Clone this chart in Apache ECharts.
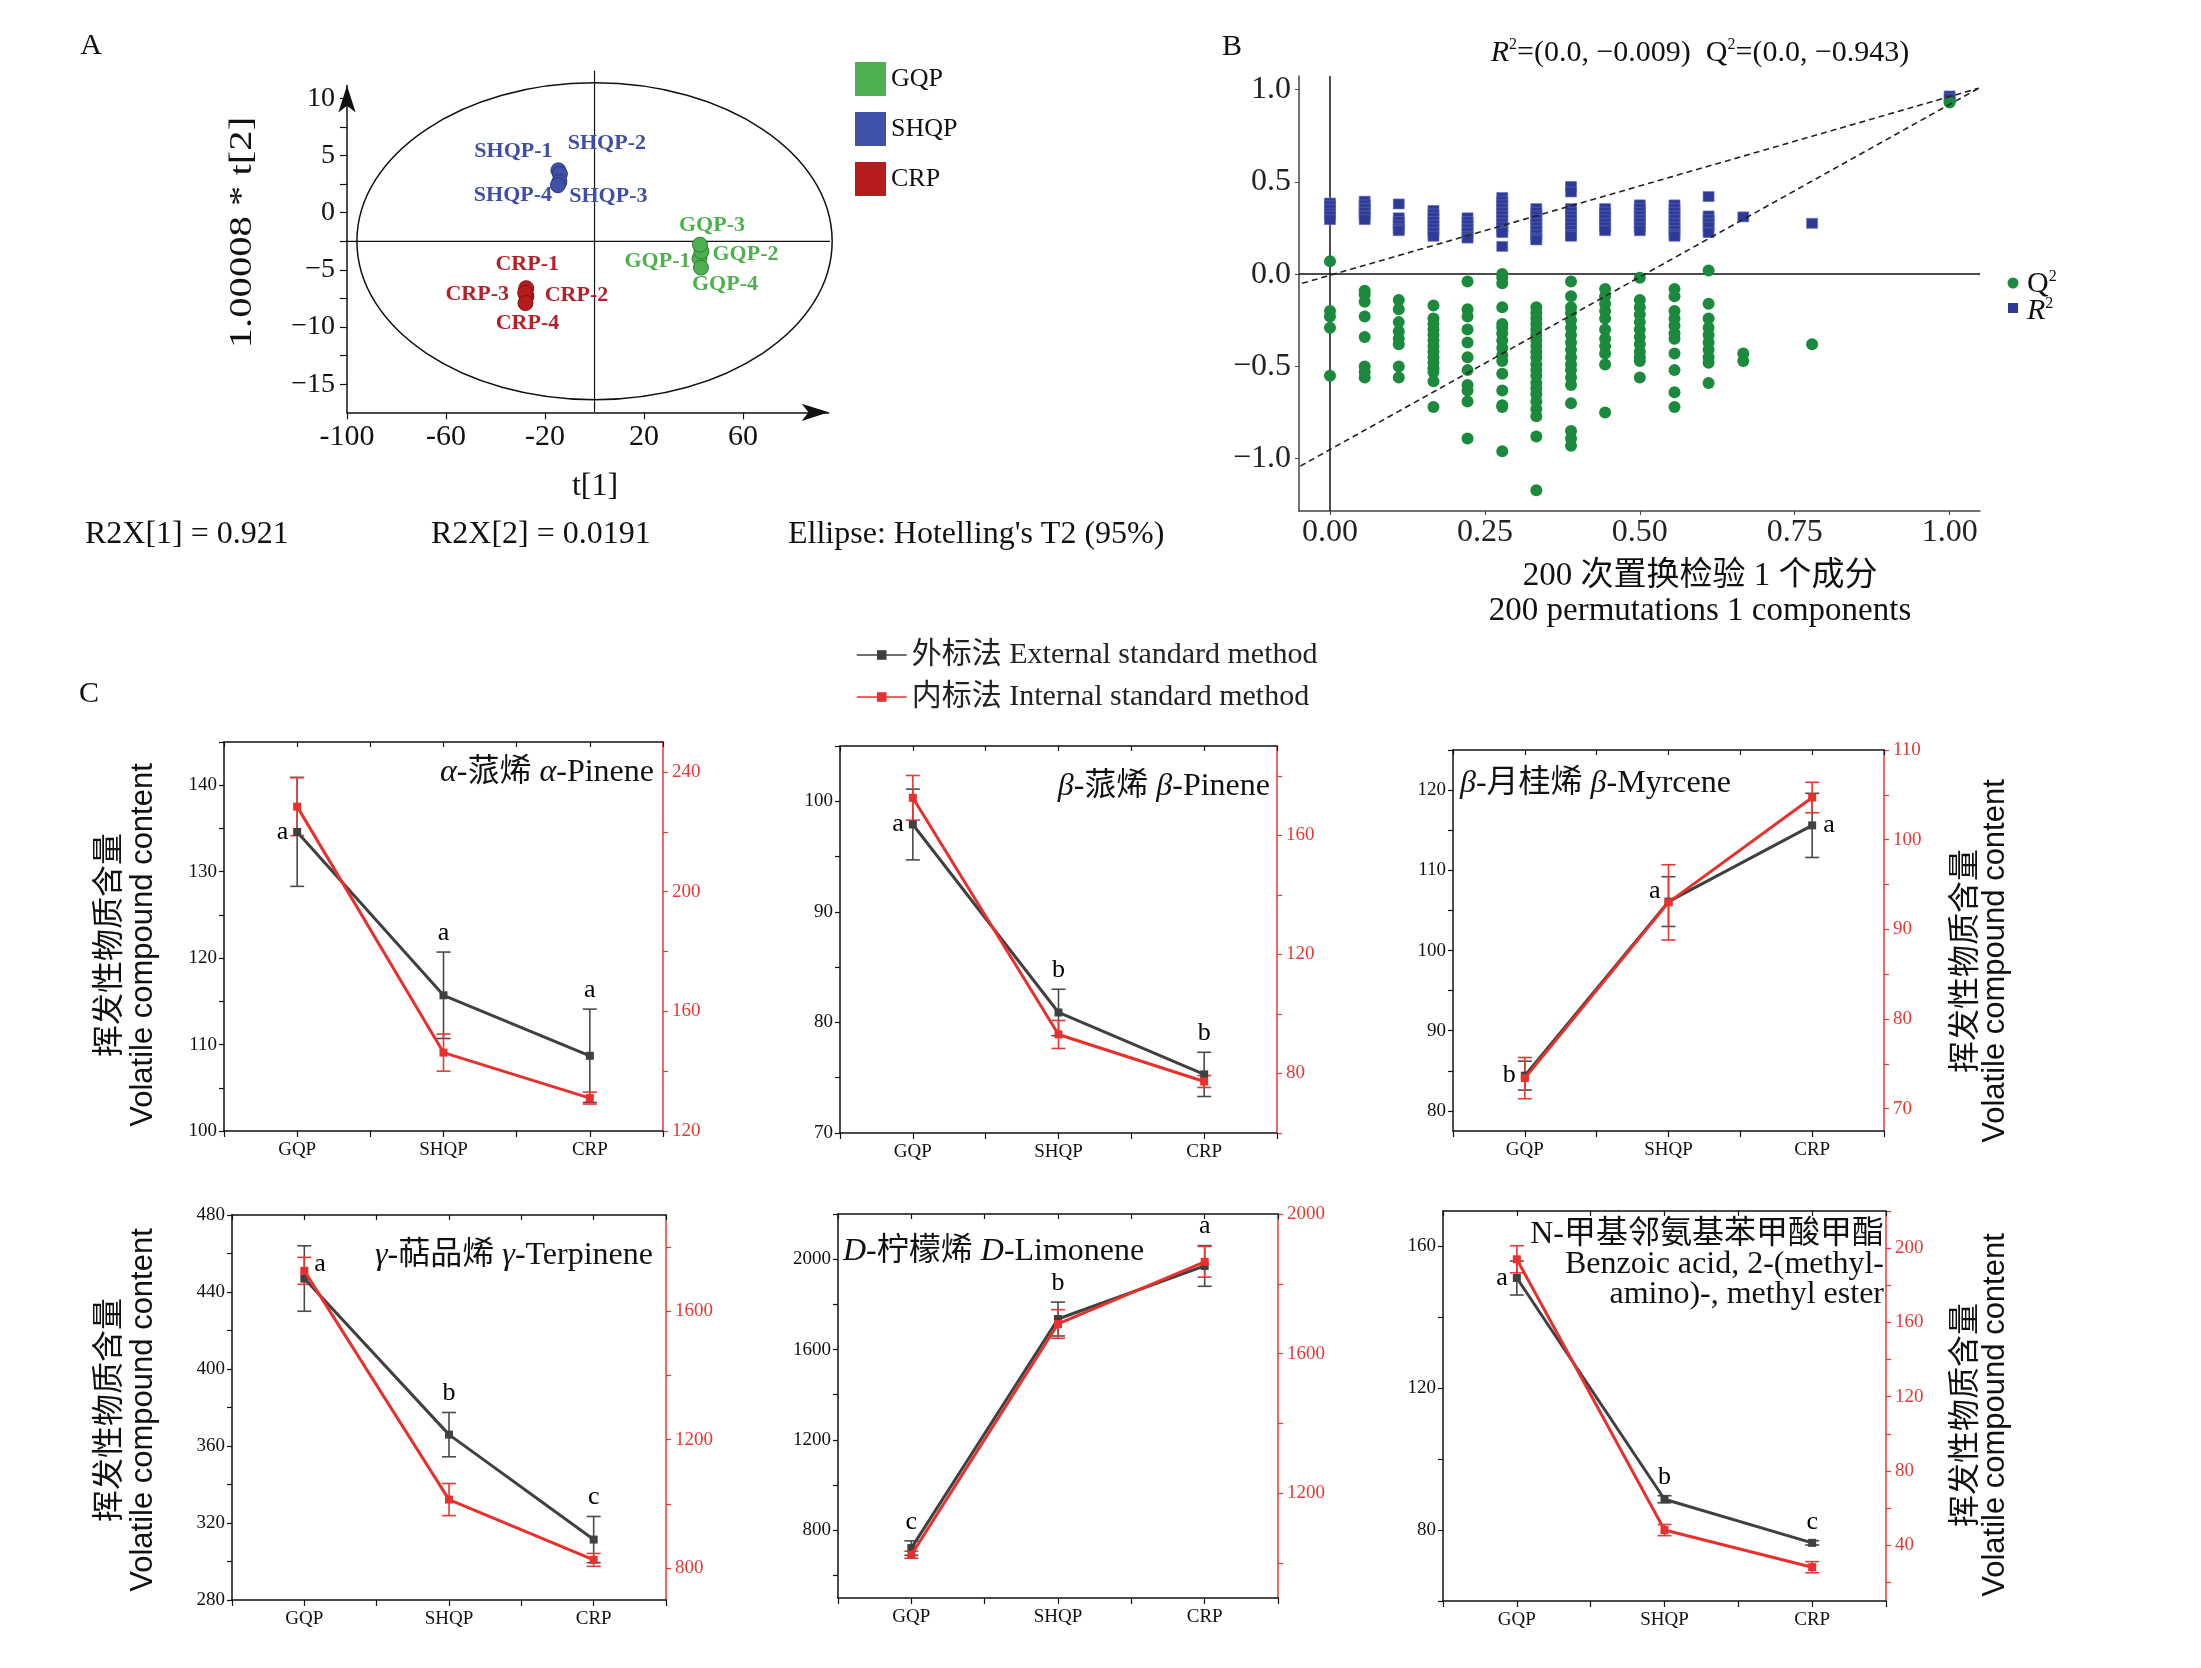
<!DOCTYPE html>
<html>
<head>
<meta charset="utf-8">
<title>PCA, permutation test and volatile compounds</title>
<script src="https://cdn.jsdelivr.net/npm/echarts@6.0.0/dist/echarts.min.js"></script>
<style>
  html, body { margin: 0; padding: 0; background: #fff; }
  #fig { width: 2201px; height: 1668px; }
</style>
</head>
<body>
<div id="fig"></div>
<script>
var SERIF = '"Liberation Serif", "Noto Sans CJK SC", serif';
var SANS = '"Liberation Sans", "Noto Sans CJK SC", sans-serif';

// ---------- A: PCA score plot ----------
var groupNames = ['GQP', 'SHQP', 'CRP'];
var gqpScores  = [[42.4, -4.0], [43.2, -3.4], [42.6, -2.8], [43.0, -4.8]];
var shqpScores = [[-14.6, 3.7], [-14.0, 3.4], [-14.2, 2.7], [-14.8, 2.4]];
var crpScores  = [[-27.6, -6.6], [-27.5, -7.3], [-28.0, -7.0], [-27.9, -7.9]];
var gqpSamples  = ['GQP-1', 'GQP-2', 'GQP-3', 'GQP-4'];
var shqpSamples = ['SHQP-1', 'SHQP-2', 'SHQP-3', 'SHQP-4'];
var crpSamples  = ['CRP-1', 'CRP-2', 'CRP-3', 'CRP-4'];
var hotelling = [0, -2.5, 96, 13.85];   // centre x, centre y, half width, half height
var scoreXTicks = [-100, -60, -20, 20, 60];
var scoreYTicks = [-15, -10, -5, 0, 5, 10];
var r2xTexts = ['R2X[1] = 0.921', 'R2X[2] = 0.0191', "Ellipse: Hotelling's T2 (95%)"];

// ---------- B: 200 permutations ----------
var permX = [0, 0.056, 0.111, 0.167, 0.222, 0.278, 0.333, 0.389, 0.444, 0.5, 0.556, 0.611, 0.667, 0.778, 1.0];
var r2Perm = [
  [0.385, 0.37, 0.35, 0.33, 0.315, 0.295],
  [0.395, 0.375, 0.355, 0.335, 0.315, 0.295],
  [0.38, 0.305, 0.285, 0.265, 0.245, 0.235],
  [0.345, 0.325, 0.305, 0.285, 0.265, 0.245, 0.225, 0.205],
  [0.305, 0.285, 0.265, 0.245, 0.225, 0.205, 0.195],
  [0.415, 0.395, 0.375, 0.355, 0.335, 0.315, 0.295, 0.275, 0.255, 0.235, 0.225, 0.15],
  [0.355, 0.335, 0.315, 0.295, 0.275, 0.255, 0.235, 0.215, 0.195, 0.185],
  [0.475, 0.445, 0.355, 0.335, 0.315, 0.295, 0.275, 0.255, 0.235, 0.215, 0.205],
  [0.355, 0.335, 0.315, 0.295, 0.275, 0.255, 0.235],
  [0.375, 0.355, 0.335, 0.315, 0.295, 0.275, 0.255, 0.235],
  [0.375, 0.355, 0.335, 0.315, 0.295, 0.275, 0.255, 0.235, 0.215, 0.205],
  [0.42, 0.315, 0.295, 0.275, 0.255, 0.225],
  [0.31],
  [0.275],
  [0.965, 0.95]
];
var q2Perm = [
  [0.07, -0.2, -0.23, -0.29, -0.55],
  [-0.09, -0.11, -0.15, -0.23, -0.34, -0.5, -0.53, -0.56],
  [-0.14, -0.19, -0.26, -0.31, -0.35, -0.38, -0.5, -0.56],
  [-0.17, -0.24, -0.27, -0.3, -0.33, -0.36, -0.39, -0.42, -0.45, -0.48, -0.51, -0.53, -0.58, -0.72],
  [-0.04, -0.19, -0.23, -0.3, -0.37, -0.45, -0.52, -0.6, -0.63, -0.69, -0.89],
  [0.0, -0.02, -0.05, -0.18, -0.27, -0.29, -0.32, -0.36, -0.4, -0.44, -0.47, -0.54, -0.63, -0.71, -0.72, -0.96],
  [-0.18, -0.21, -0.24, -0.27, -0.3, -0.33, -0.36, -0.39, -0.42, -0.45, -0.49, -0.52, -0.55, -0.59, -0.62, -0.65, -0.69, -0.73, -0.77, -0.88, -1.17],
  [-0.04, -0.12, -0.18, -0.21, -0.25, -0.29, -0.33, -0.37, -0.41, -0.45, -0.49, -0.52, -0.56, -0.6, -0.7, -0.85, -0.89, -0.93],
  [-0.08, -0.12, -0.16, -0.2, -0.24, -0.3, -0.35, -0.39, -0.43, -0.49, -0.75],
  [-0.02, -0.14, -0.18, -0.22, -0.26, -0.3, -0.34, -0.38, -0.42, -0.45, -0.47, -0.56],
  [-0.08, -0.12, -0.2, -0.24, -0.28, -0.32, -0.35, -0.43, -0.52, -0.64, -0.72],
  [0.02, -0.16, -0.24, -0.29, -0.33, -0.37, -0.41, -0.45, -0.48, -0.59],
  [-0.43, -0.47],
  [-0.38],
  [0.93]
];
var r2Trend = [[-0.045, -0.05], [1.047, 1.007]];
var q2Trend = [[-0.048, -1.04], [1.047, 1.007]];
var permXTicks = [0, 0.25, 0.5, 0.75, 1];
var permYTicks = [-1, -0.5, 0, 0.5, 1];

// ---------- C: external vs internal standard ----------
var groups = ['GQP', 'SHQP', 'CRP'];
var extName = '外标法 External standard method';
var intName = '内标法 Internal standard method';

var aPinExt = [134.6, 115.7, 108.7], aPinExtSd = [6.3, 5.0, 5.4];
var aPinInt = [228.4, 146.2, 131.0], aPinIntSd = [9.7, 6.2, 2.0];
var aPinSig = ['a', 'a', 'a'];
var aPinLeftTicks = [100, 110, 120, 130, 140], aPinRightTicks = [120, 160, 200, 240];

var bPinExt = [97.9, 80.9, 75.3], bPinExtSd = [3.2, 2.1, 2.0];
var bPinInt = [172.6, 93.1, 77.3], bPinIntSd = [7.5, 4.7, 2.0];
var bPinSig = ['a', 'b', 'b'];
var bPinLeftTicks = [70, 80, 90, 100], bPinRightTicks = [80, 120, 160];

var myrExt = [84.4, 106.1, 115.6], myrExtSd = [1.8, 3.1, 4.0];
var myrInt = [73.4, 93.0, 104.7], myrIntSd = [2.3, 4.2, 1.7];
var myrSig = ['b', 'a', 'a'];
var myrLeftTicks = [80, 90, 100, 110, 120], myrRightTicks = [70, 80, 90, 100, 110];

var terExt = [447.0, 365.9, 311.4], terExtSd = [17, 11.5, 12];
var terInt = [1726, 1013, 825], terIntSd = [42, 50, 20];
var terSig = ['a', 'b', 'c'];
var terLeftTicks = [280, 320, 360, 400, 440, 480], terRightTicks = [800, 1200, 1600];

var limExt = [721, 1735, 1970], limExtSd = [32, 75, 90];
var limInt = [1024, 1685, 1863], limIntSd = [10, 41, 44];
var limSig = ['c', 'b', 'a'];
var limLeftTicks = [800, 1200, 1600, 2000], limRightTicks = [1200, 1600, 2000];

var benExt = [151.1, 88.7, 76.4], benExtSd = [4.8, 1.0, 0.6];
var benInt = [194, 48.2, 28.2], benIntSd = [7.3, 3.0, 3.0];
var benSig = ['a', 'b', 'c'];
var benLeftTicks = [80, 120, 160], benRightTicks = [40, 80, 120, 160, 200];

// layout of the six small charts (pixels) and their axis ranges
var panelsC = [
  {ext: aPinExt, extSd: aPinExtSd, inner: aPinInt, innerSd: aPinIntSd, sig: aPinSig,
   lTicks: aPinLeftTicks, rTicks: aPinRightTicks, box: [224, 742, 439, 389],
   yl: [100, 145, 5], yr: [120, 250, 20], sigPos: ['left', 'top', 'top'],
   title: '{i|α}-蒎烯 {i|α}-Pinene', tAlign: 'right', tx: 654, ty: 773, name: 'left', nameY: 945},
  {ext: bPinExt, extSd: bPinExtSd, inner: bPinInt, innerSd: bPinIntSd, sig: bPinSig,
   lTicks: bPinLeftTicks, rTicks: bPinRightTicks, box: [840, 746, 437, 387],
   yl: [70, 105, 5], yr: [60, 190, 20], sigPos: ['left', 'top', 'top'],
   title: '{i|β}-蒎烯 {i|β}-Pinene', tAlign: 'right', tx: 1270, ty: 787, name: null},
  {ext: myrExt, extSd: myrExtSd, inner: myrInt, innerSd: myrIntSd, sig: myrSig,
   lTicks: myrLeftTicks, rTicks: myrRightTicks, box: [1453, 750, 431, 381],
   yl: [77.5, 125, 5], yr: [67.5, 110, 5], sigPos: ['left', 'lefttop', 'right'],
   title: '{i|β}-月桂烯 {i|β}-Myrcene', tAlign: 'left', tx: 1460, ty: 784, name: 'right', nameY: 961},
  {ext: terExt, extSd: terExtSd, inner: terInt, innerSd: terIntSd, sig: terSig,
   lTicks: terLeftTicks, rTicks: terRightTicks, box: [232, 1215, 434, 385],
   yl: [280, 480, 20], yr: [700, 1900, 200], sigPos: ['righttop', 'top', 'top'],
   title: '{i|γ}-萜品烯 {i|γ}-Terpinene', tAlign: 'right', tx: 653, ty: 1256, name: 'left', nameY: 1410},
  {ext: limExt, extSd: limExtSd, inner: limInt, innerSd: limIntSd, sig: limSig,
   lTicks: limLeftTicks, rTicks: limRightTicks, box: [838, 1214, 440, 384],
   yl: [500, 2200, 200], yr: [900, 2000, 200], sigPos: ['top', 'top', 'top'],
   title: '{i|D}-柠檬烯 {i|D}-Limonene', tAlign: 'left', tx: 843, ty: 1252, name: null},
  {ext: benExt, extSd: benExtSd, inner: benInt, innerSd: benIntSd, sig: benSig,
   lTicks: benLeftTicks, rTicks: benRightTicks, box: [1443, 1211, 443, 390],
   yl: [60, 170, 20], yr: [10, 220, 20], sigPos: ['left', 'top', 'top'],
   title: 'N-甲基邻氨基苯甲酸甲酯\nBenzoic acid, 2-(methyl-\namino)-, methyl ester',
   tAlign: 'right', tx: 1884, ty: 1265, name: 'right', nameY: 1415}
];

function tickRange(min, max, step) {
  var out = [];
  var v = Math.ceil(min / step - 1e-9) * step;
  for (; v <= max + 1e-9; v += step) out.push(Math.round(v * 1000) / 1000);
  return out;
}
function minus(v) { return String(v).replace('-', '\u2212'); }
function plain(v) { return String(v); }

function textEl(str, x, y, size, opts) {
  opts = opts || {};
  return {
    type: 'text', x: x, y: y, rotation: opts.rotation || 0,
    scaleX: opts.scaleX || 1, silent: true, z: 10,
    style: {
      text: str, fontSize: size, fontFamily: opts.family || SERIF,
      fontStyle: opts.italic ? 'italic' : 'normal', fill: opts.color || '#111',
      align: opts.align || 'center', verticalAlign: opts.valign || 'middle',
      textAlign: opts.align || 'center', textVerticalAlign: opts.valign || 'middle',
      lineHeight: opts.lineHeight, rich: opts.rich
    }
  };
}

function renderErr(params, api) {
  var x = api.value(0), m = api.value(1), s = api.value(2);
  var hi = api.coord([x, m + s]), lo = api.coord([x, m - s]);
  var w = 7;
  var st = {stroke: api.visual('color'), lineWidth: 1.6};
  return {type: 'group', children: [
    {type: 'line', shape: {x1: hi[0], y1: hi[1], x2: lo[0], y2: lo[1]}, style: st},
    {type: 'line', shape: {x1: hi[0] - w, y1: hi[1], x2: hi[0] + w, y2: hi[1]}, style: st},
    {type: 'line', shape: {x1: lo[0] - w, y1: lo[1], x2: lo[0] + w, y2: lo[1]}, style: st}
  ]};
}

var grids = [], xAxes = [], yAxes = [], series = [], graphics = [];

// ===== Panel A =====
var aXMin = -100, aXMax = 94.6, aYMin = -17.45, aYMax = 11.12;
grids.push({left: 347, top: 85.5, width: 481.7, height: 326.8});
xAxes.push({
  gridIndex: 0, type: 'value', min: aXMin, max: aXMax,
  axisLine: {show: true, onZero: false, symbol: ['none', 'arrow'], symbolSize: [13, 27],
    lineStyle: {color: '#111', width: 1.5}},
  axisTick: {show: true, customValues: scoreXTicks, length: 7, lineStyle: {color: '#111', width: 1.2}},
  axisLabel: {customValues: scoreXTicks, formatter: plain, fontSize: 30, fontFamily: SERIF, color: '#111', margin: 10},
  splitLine: {show: false}
});
yAxes.push({
  gridIndex: 0, type: 'value', min: aYMin, max: aYMax,
  axisLine: {show: true, onZero: false, symbol: ['none', 'arrow'], symbolSize: [13, 27],
    lineStyle: {color: '#111', width: 1.5}},
  axisTick: {show: true, customValues: tickRange(-15, 10, 2.5), length: 7, lineStyle: {color: '#111', width: 1.2}},
  axisLabel: {customValues: scoreYTicks, formatter: minus, fontSize: 28, fontFamily: SERIF, color: '#111', margin: 12},
  splitLine: {show: false}
});

var scoreSets = [gqpScores, shqpScores, crpScores];
var sampleSets = [gqpSamples, shqpSamples, crpSamples];
var fillColors = ['#4caf50', '#4051a8', '#b71c1c'];
var edgeColors = ['#2e7d32', '#27357f', '#7f0f0f'];
var labelColors = ['#4fb04f', '#3f4fa6', '#b3212b'];
var labelOffsets = [
  [[-42, 3], [44, 3], [12, -19], [24, 17]],
  [[-45, -19], [47, -30], [49, 14], [-45, 10]],
  [[1, -24], [50, -1], [-48, 2], [2, 20]]
];
groupNames.forEach(function (g, gi) {
  series.push({
    name: g, type: 'scatter', xAxisIndex: 0, yAxisIndex: 0,
    symbol: 'circle', symbolSize: 15, z: 5,
    itemStyle: {color: fillColors[gi], borderColor: edgeColors[gi], borderWidth: 1, opacity: 1},
    data: scoreSets[gi].map(function (p, k) {
      return {value: p, label: {show: true, position: 'inside', offset: labelOffsets[gi][k],
        formatter: sampleSets[gi][k], color: labelColors[gi], fontSize: 22,
        fontWeight: 'bold', fontFamily: SERIF}};
    })
  });
});
series.push({
  type: 'custom', name: 'ellipse', xAxisIndex: 0, yAxisIndex: 0, silent: true, z: 2,
  data: [hotelling], encode: {x: 0, y: 1},
  renderItem: function (params, api) {
    var c = api.coord([api.value(0), api.value(1)]);
    var s = api.size([api.value(2), api.value(3)]);
    return {type: 'ellipse', shape: {cx: c[0], cy: c[1], rx: s[0], ry: s[1]},
      style: {fill: 'none', stroke: '#111', lineWidth: 1.5}};
  }
});
series.push({type: 'line', name: 'crossV', xAxisIndex: 0, yAxisIndex: 0, clip: false, symbol: 'none', silent: true,
  data: [[hotelling[0], aYMin], [hotelling[0], 12.4]], lineStyle: {color: '#111', width: 1.2}, z: 2});
series.push({type: 'line', name: 'crossH', xAxisIndex: 0, yAxisIndex: 0, clip: false, symbol: 'none', silent: true,
  data: [[-102.5, hotelling[1]], [100.6, hotelling[1]]], lineStyle: {color: '#111', width: 1.2}, z: 2});

// ===== Panel B =====
var bXMin = -0.05, bXMax = 1.049, bYMin = -1.283, bYMax = 1.073;
grids.push({left: 1299, top: 76, width: 681, height: 435});
xAxes.push({
  gridIndex: 1, type: 'value', min: bXMin, max: bXMax,
  axisLine: {show: true, onZero: false, lineStyle: {color: '#444', width: 1.5}},
  axisTick: {show: true, customValues: permXTicks, length: 4, lineStyle: {color: '#444'}},
  axisLabel: {customValues: permXTicks, formatter: function (v) { return v.toFixed(2); },
    fontSize: 32, fontFamily: SERIF, color: '#222', margin: 6},
  splitLine: {show: false}
});
yAxes.push({
  gridIndex: 1, type: 'value', min: bYMin, max: bYMax,
  axisLine: {show: true, onZero: false, lineStyle: {color: '#444', width: 1.5}},
  axisTick: {show: true, customValues: permYTicks, length: 4, lineStyle: {color: '#444'}},
  axisLabel: {customValues: permYTicks, formatter: function (v) { return minus(v.toFixed(1)); },
    fontSize: 32, fontFamily: SERIF, color: '#222', margin: 8},
  splitLine: {show: false}
});
var r2Points = [], q2Points = [];
permX.forEach(function (x, k) {
  r2Perm[k].forEach(function (v) { r2Points.push([x, v]); });
  q2Perm[k].forEach(function (v) { q2Points.push([x, v]); });
});
series.push({type: 'line', name: 'zeroV', xAxisIndex: 1, yAxisIndex: 1, symbol: 'none', silent: true,
  data: [[0, bYMin], [0, bYMax]], lineStyle: {color: '#111', width: 1.5}, z: 2});
series.push({type: 'line', name: 'zeroH', xAxisIndex: 1, yAxisIndex: 1, symbol: 'none', silent: true,
  data: [[bXMin, 0], [bXMax, 0]], lineStyle: {color: '#111', width: 1.5}, z: 2});
series.push({name: 'R2', type: 'scatter', xAxisIndex: 1, yAxisIndex: 1, symbol: 'rect', symbolSize: [11, 10],
  itemStyle: {color: '#2e3b96', borderColor: '#5f6cbf', borderWidth: 0.6, opacity: 1}, data: r2Points, z: 3});
series.push({name: 'Q2', type: 'scatter', xAxisIndex: 1, yAxisIndex: 1, symbol: 'circle', symbolSize: 12,
  itemStyle: {color: '#1b8a3c', opacity: 1}, data: q2Points, z: 4});
[r2Trend, q2Trend].forEach(function (tr, i) {
  series.push({type: 'line', name: 'trend' + i, xAxisIndex: 1, yAxisIndex: 1, symbol: 'none', silent: true,
    clip: false, data: tr, lineStyle: {color: '#222', width: 1.6, type: [6, 4]}, z: 6});
});

// ===== Panel C =====
panelsC.forEach(function (p, i) {
  var gi = 2 + i;
  var xb = 2 + 2 * i, yl = 2 + 2 * i;
  grids.push({left: p.box[0], top: p.box[1], width: p.box[2], height: p.box[3]});
  xAxes.push({
    gridIndex: gi, type: 'value', position: 'bottom', min: 0.5, max: 3.5, interval: 0.5,
    axisLine: {show: true, onZero: false, lineStyle: {color: '#111', width: 1.5}},
    axisTick: {show: true, length: 6, lineStyle: {color: '#111', width: 1.2}},
    axisLabel: {customValues: [1, 2, 3], formatter: function (v) { return groups[Math.round(v) - 1]; },
      fontSize: 19, fontFamily: SERIF, color: '#111', margin: 10},
    splitLine: {show: false}
  });
  xAxes.push({
    gridIndex: gi, type: 'value', position: 'top', min: 0.5, max: 3.5, interval: 0.5,
    axisLine: {show: true, onZero: false, lineStyle: {color: '#111', width: 1.5}},
    axisTick: {show: true, inside: true, length: 5, lineStyle: {color: '#111', width: 1.2}},
    axisLabel: {show: false}, splitLine: {show: false}
  });
  yAxes.push({
    gridIndex: gi, type: 'value', position: 'left', min: p.yl[0], max: p.yl[1],
    axisLine: {show: true, onZero: false, lineStyle: {color: '#111', width: 1.5}},
    axisTick: {show: true, customValues: tickRange(p.yl[0], p.yl[1], p.yl[2]), length: 5,
      lineStyle: {color: '#111', width: 1.2}},
    axisLabel: {customValues: p.lTicks, formatter: plain, fontSize: 19, fontFamily: SERIF, color: '#111', margin: 7},
    splitLine: {show: false}
  });
  yAxes.push({
    gridIndex: gi, type: 'value', position: 'right', min: p.yr[0], max: p.yr[1],
    axisLine: {show: true, onZero: false, lineStyle: {color: '#e33a36', width: 1.5}},
    axisTick: {show: true, customValues: tickRange(p.yr[0], p.yr[1], p.yr[2]), length: 5,
      lineStyle: {color: '#e33a36', width: 1.2}},
    axisLabel: {customValues: p.rTicks, formatter: plain, fontSize: 19, fontFamily: SERIF, color: '#e33a36', margin: 9},
    splitLine: {show: false}
  });

  var extPts = groups.map(function (g, j) { return [j + 1, p.ext[j]]; });
  var intPts = groups.map(function (g, j) { return [j + 1, p.inner[j]]; });
  series.push({type: 'custom', name: 'extErr' + i, xAxisIndex: xb, yAxisIndex: yl, z: 2, silent: true,
    itemStyle: {color: '#4a4a4a'}, encode: {x: 0, y: 1}, renderItem: renderErr,
    data: groups.map(function (g, j) { return [j + 1, p.ext[j], p.extSd[j]]; })});
  series.push({type: 'custom', name: 'intErr' + i, xAxisIndex: xb, yAxisIndex: yl + 1, z: 2, silent: true,
    itemStyle: {color: '#e33a36'}, encode: {x: 0, y: 1}, renderItem: renderErr,
    data: groups.map(function (g, j) { return [j + 1, p.inner[j], p.innerSd[j]]; })});
  series.push({name: extName, type: 'line', xAxisIndex: xb, yAxisIndex: yl, data: extPts,
    symbol: 'rect', symbolSize: 8, itemStyle: {color: '#404040'},
    lineStyle: {color: '#404040', width: 3}, z: 3});
  series.push({name: intName, type: 'line', xAxisIndex: xb, yAxisIndex: yl + 1, data: intPts,
    symbol: 'rect', symbolSize: 8, itemStyle: {color: '#e8302c'},
    lineStyle: {color: '#e8302c', width: 3}, z: 4});

  series.push({type: 'scatter', name: 'sig' + i, xAxisIndex: xb, yAxisIndex: yl, silent: true,
    symbolSize: 8, itemStyle: {color: 'transparent', opacity: 1}, z: 6,
    data: groups.map(function (g, j) {
      var pos = p.sigPos[j];
      var y = pos === 'top' ? p.ext[j] + p.extSd[j] : p.ext[j];
      var lab = {show: true, formatter: p.sig[j], fontSize: 26, fontFamily: SERIF, color: '#000'};
      if (pos === 'top') { lab.position = 'top'; lab.distance = 2; }
      else if (pos === 'left') { lab.position = 'left'; lab.distance = 5; }
      else if (pos === 'right') { lab.position = 'right'; lab.distance = 7; }
      else if (pos === 'lefttop') { lab.position = 'left'; lab.distance = 4; lab.offset = [0, -10]; }
      else if (pos === 'righttop') { lab.position = 'right'; lab.distance = 6; lab.offset = [0, -14]; }
      return {value: [j + 1, y], label: lab};
    })});

  var rich = {i: {fontStyle: 'italic', fontSize: 32, fontFamily: SERIF, fill: '#111'}};
  graphics.push(textEl(p.title, p.tx, p.ty, 32, {align: p.tAlign, lineHeight: 30, rich: rich}));

  if (p.name) {
    var cx = p.name === 'left' ? [110.8, 143.6] : [1966.7, 1995.4];
    graphics.push(textEl('挥发性物质含量', cx[0], p.nameY, 32, {rotation: Math.PI / 2, family: SERIF}));
    graphics.push(textEl('Volatile compound content', cx[1], p.nameY, 31, {rotation: Math.PI / 2, family: SANS}));
  }
});

// ===== free texts =====
graphics.push(textEl('A', 91, 46, 30));
graphics.push(textEl('B', 1232, 47, 30));
graphics.push(textEl('C', 89, 694, 30));
graphics.push(textEl('1.00008 * t[2]', 243, 232.5, 32, {rotation: Math.PI / 2, scaleX: 1.27}));
graphics.push(textEl('t[1]', 595, 487, 32));
graphics.push(textEl(r2xTexts[0], 85, 535, 32, {align: 'left'}));
graphics.push(textEl(r2xTexts[1], 431, 535, 32, {align: 'left'}));
graphics.push(textEl(r2xTexts[2], 788, 535, 32, {align: 'left'}));

var supRich = {
  i: {fontStyle: 'italic', fontSize: 30, fontFamily: SERIF, fill: '#111'},
  s: {fontSize: 16, fontFamily: SERIF, fill: '#111', verticalAlign: 'top'}
};
graphics.push(textEl('{i|R}{s|2}=(0.0, \u22120.009)  Q{s|2}=(0.0, \u22120.943)', 1700, 53, 30,
  {rich: supRich, lineHeight: 32}));
graphics.push(textEl('200 次置换检验 1 个成分', 1700, 576, 33));
graphics.push(textEl('200 permutations 1 components', 1700, 611, 33));

// B legend (tight rows, drawn by hand)
graphics.push({type: 'circle', shape: {cx: 2013, cy: 283, r: 5.5}, style: {fill: '#1b8a3c'}, silent: true, z: 10});
graphics.push({type: 'rect', shape: {x: 2008, y: 303, width: 10, height: 10}, style: {fill: '#2e3b96'}, silent: true, z: 10});
graphics.push(textEl('Q{s|2}', 2027, 284, 30, {align: 'left', rich: supRich, lineHeight: 30}));
graphics.push(textEl('{i|R}{s|2}', 2027, 311, 30, {align: 'left', rich: supRich, lineHeight: 30}));

var option = {
  animation: false,
  backgroundColor: '#fff',
  grid: grids,
  xAxis: xAxes,
  yAxis: yAxes,
  legend: [
    {data: [{name: 'GQP', icon: 'rect'}, {name: 'SHQP', icon: 'rect'}, {name: 'CRP', icon: 'rect'}],
     orient: 'vertical', left: 855, top: 62, padding: 0, itemWidth: 31, itemHeight: 34, itemGap: 16,
     selectedMode: false, itemStyle: {borderWidth: 0, opacity: 1},
     textStyle: {fontSize: 26, fontFamily: SERIF, color: '#111'}},
    {data: [extName, intName], orient: 'vertical', left: 856, top: 640, padding: 0,
     itemWidth: 50, itemHeight: 12, itemGap: 12, selectedMode: false,
     lineStyle: {width: 1.5},
     textStyle: {fontSize: 30, fontFamily: SERIF, color: '#222'}}
  ],
  graphic: graphics,
  series: series
};

var chart = echarts.init(document.getElementById('fig'));
chart.setOption(option);
</script>
</body>
</html>
